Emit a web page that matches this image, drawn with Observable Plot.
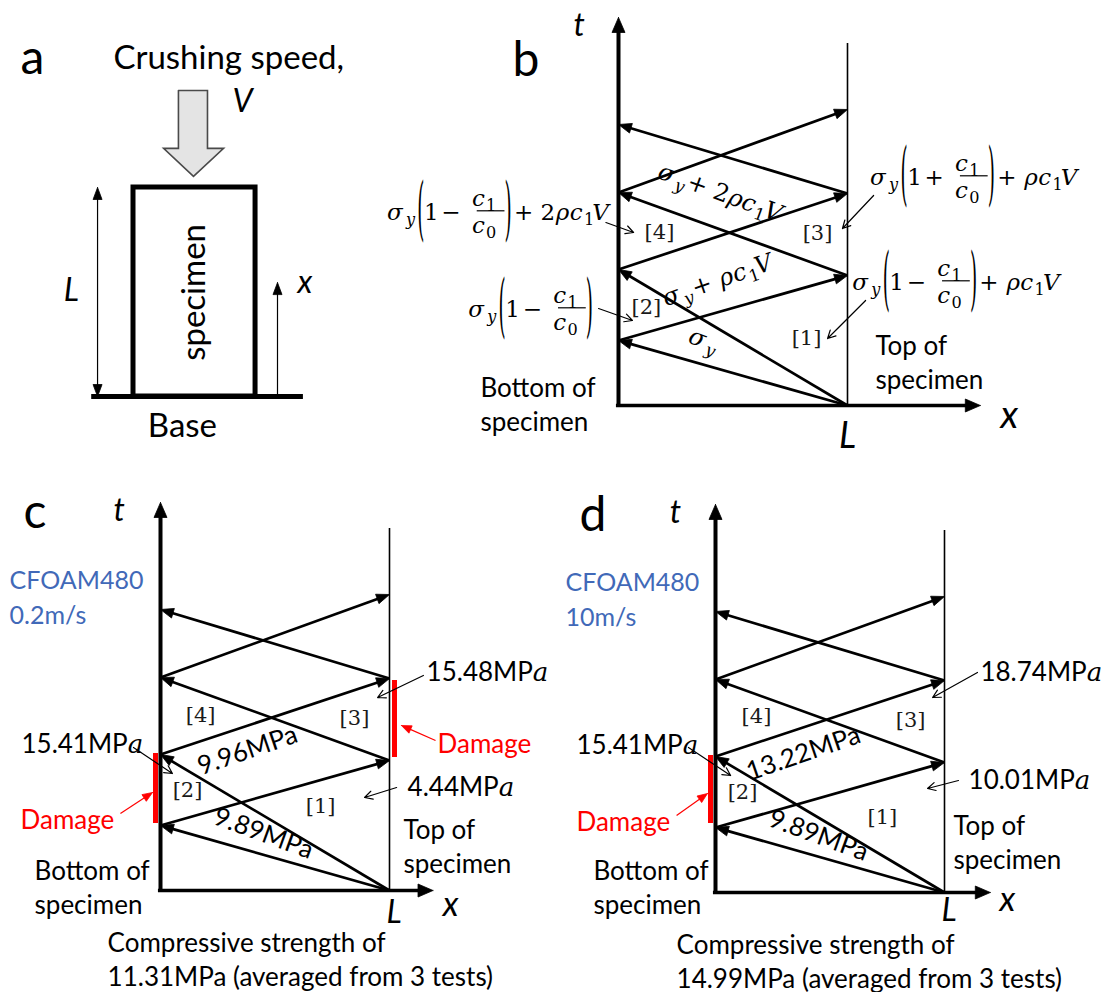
<!DOCTYPE html>
<html>
<head>
<meta charset="utf-8">
<script src="https://cdn.jsdelivr.net/npm/d3@7"></script>
<script src="https://cdn.jsdelivr.net/npm/@observablehq/plot@0.6"></script>
<style>
  html, body { margin: 0; padding: 0; background: #fff; }
  #figure { position: relative; width: 1104px; height: 992px; background: #fff; overflow: hidden; }
  #figure svg { position: absolute; background: none; overflow: visible; }
</style>
</head>
<body>
<div id="figure"></div>
<script>
// ---------------------------------------------------------------------------
// Wave fronts in the Lagrangian x–t plane (x in units of L, t in arbitrary
// time units). Segment i runs from (waveX1, waveT1) to (waveX2, waveT2).
// ---------------------------------------------------------------------------
const waveX1 = [1, 1, 0, 1, 0, 1, 0];
const waveT1 = [0, 0, 0.65, 1.30, 1.36, 2.12, 2.13];
const waveX2 = [0, 0, 1, 0, 1, 0, 1];
const waveT2 = [0.65, 1.36, 1.30, 2.13, 2.12, 2.81, 2.96];
const specimenTopT = 3.62;   // top of the x = L boundary line
const tAxisTop = 3.88;       // tip of the t axis

// Panel (a) geometry, in units of the specimen length L
const specimenWidth = 0.584;
const baseExtent = [-0.20, 0.813];
const lengthBarX = -0.172;
const xArrowX = 0.689, xArrowTop = 0.545;
const crushArrowX = [0.215, 0.354, 0.354, 0.431, 0.287, 0.144, 0.215, 0.215];
const crushArrowY = [1.464, 1.464, 1.187, 1.187, 1.053, 1.187, 1.187, 1.464];

// Pixel size of one unit on each diagram
const KX = 229, KY = 100, KA = 209;

const SANS = "Lato, 'Open Sans', sans-serif";
const MATH_FONT = "'DejaVu Serif', 'Liberation Serif', serif";
const RED = "#ff0000";
const BLUE = "#4169b8";

// ---------------------------------------------------------------------------
// Labels
// ---------------------------------------------------------------------------
const aTexts = [
  {text: "a", x: -0.541, t: 1.545, size: 48},
  {text: "Crushing speed,", x: -0.096, t: 1.569, size: 33}
];
const aItalic = [
  {text: "V", x: 0.474, t: 1.359, anchor: "start"},
  {text: "x", x: 0.785, t: 0.493, anchor: "start"},
  {text: "L", x: -0.297, t: 0.455, anchor: "middle"}
];

const bTexts = [
  {text: "b", x: -0.463, t: 3.30, size: 48},
  {text: "Bottom of\nspecimen", x: -0.603, t: -0.25},
  {text: "Top of\nspecimen", x: 1.122, t: 0.17}
];
const bItalic = [
  {text: "t", x: -0.197, t: 3.70, size: 32, anchor: "start"},
  {text: "x", x: 1.668, t: -0.22, size: 38, anchor: "start"},
  {text: "L", x: 1.0, t: -0.42, size: 36, anchor: "middle"}
];
const bRegions = [
  {text: "[1]", x: 0.821, t: 0.67}, {text: "[2]", x: 0.122, t: 0.98},
  {text: "[3]", x: 0.869, t: 1.72}, {text: "[4]", x: 0.179, t: 1.73}
];
const bLeaderX1 = [-0.055, -0.087, 1.114, 1.079];
const bLeaderT1 = [1.83, 0.97, 2.10, 1.05];
const bLeaderX2 = [0.066, 0.061, 0.978, 0.913];
const bLeaderT2 = [1.73, 0.85, 1.77, 0.67];

const cTexts = [
  {text: "c", x: -0.598, t: 3.63, size: 48},
  {text: "Bottom of\nspecimen", x: -0.55, t: -0.23},
  {text: "Top of\nspecimen", x: 1.061, t: 0.18},
  {text: "Compressive strength of\n11.31MPa (averaged from 3 tests)", x: -0.231, t: -0.95}
];
const cMaterial = [{text: "CFOAM480\n0.2m/s", x: -0.659, t: 2.67}];
const cDamage = [{text: "Damage", x: -0.611, t: 0.62}, {text: "Damage", x: 1.21, t: 1.38}];
const cStress = [
  {text: "15.41MPa", x: -0.607, t: 1.38}, {text: "15.48MPa", x: 1.162, t: 2.10},
  {text: "4.44MPa", x: 1.079, t: 0.95}
];
const cSlanted = [
  {text: "9.96MPa", x: 0.38, t: 1.40, angle: -19}, {text: "9.89MPa", x: 0.45, t: 0.57, angle: 20}
];
const cRegions = [
  {text: "[4]", x: 0.175, t: 1.75}, {text: "[3]", x: 0.847, t: 1.72},
  {text: "[2]", x: 0.118, t: 1.0}, {text: "[1]", x: 0.699, t: 0.84}
];
const cItalic = [
  {text: "t", x: -0.205, t: 3.70, size: 32, anchor: "start"},
  {text: "x", x: 1.232, t: -0.25, size: 34, anchor: "start"},
  {text: "L", x: 1.02, t: -0.32, size: 32, anchor: "middle"}
];
const cLeaderX1 = [-0.118, 1.148, 1.031];
const cLeaderT1 = [1.43, 2.15, 1.03];
const cLeaderX2 = [0.052, 0.948, 0.891];
const cLeaderT2 = [1.17, 1.93, 0.93];
const cDamageArrowX1 = [-0.175, 1.201], cDamageArrowT1 = [0.77, 1.50];
const cDamageArrowX2 = [-0.035, 1.052], cDamageArrowT2 = [0.98, 1.65];
const cDamageBarX = [0, 1], cDamageBarT1 = [0.67, 1.33], cDamageBarT2 = [1.37, 2.10];

const dTexts = [
  {text: "d", x: -0.594, t: 3.62, size: 48},
  {text: "Bottom of\nspecimen", x: -0.533, t: -0.21},
  {text: "Top of\nspecimen", x: 1.039, t: 0.24},
  {text: "Compressive strength of\n14.99MPa (averaged from 3 tests)", x: -0.17, t: -0.95}
];
const dMaterial = [{text: "CFOAM480\n10m/s", x: -0.655, t: 2.67}];
const dDamage = [{text: "Damage", x: -0.607, t: 0.62}];
const dStress = [
  {text: "15.41MPa", x: -0.607, t: 1.39}, {text: "18.74MPa", x: 1.157, t: 2.12},
  {text: "10.01MPa", x: 1.105, t: 1.04}
];
const dSlanted = [
  {text: "13.22MPa", x: 0.384, t: 1.39, angle: -19}, {text: "9.89MPa", x: 0.45, t: 0.57, angle: 20}
];
const dRegions = [
  {text: "[4]", x: 0.179, t: 1.76}, {text: "[3]", x: 0.852, t: 1.72},
  {text: "[2]", x: 0.118, t: 1.0}, {text: "[1]", x: 0.729, t: 0.75}
];
const dItalic = [
  {text: "t", x: -0.20, t: 3.70, size: 32, anchor: "start"},
  {text: "x", x: 1.24, t: -0.18, size: 34, anchor: "start"},
  {text: "L", x: 1.02, t: -0.28, size: 32, anchor: "middle"}
];
const dLeaderX1 = [-0.118, 1.144, 1.061];
const dLeaderT1 = [1.45, 2.20, 1.12];
const dLeaderX2 = [0.066, 0.948, 0.926];
const dLeaderT2 = [1.17, 1.95, 1.04];
const dDamageArrowX1 = [-0.17], dDamageArrowT1 = [0.77];
const dDamageArrowX2 = [-0.035], dDamageArrowT2 = [0.99];
const dDamageBarX = [0], dDamageBarT1 = [0.69], dDamageBarT2 = [1.37];

// ---------------------------------------------------------------------------
// Helpers
// ---------------------------------------------------------------------------
const zip = (...cols) => cols[0].map((_, i) => cols.map(c => c[i]));

// Filled triangular arrowhead whose tip sits at (x1, y1), pointing along the segment.
function headPolygon(x0, y0, x1, y1, kx, ky, len, half, id) {
  const px = (x1 - x0) * kx, py = (y1 - y0) * ky;
  const d = Math.hypot(px, py), ux = px / d, uy = py / d;
  const bx = -ux * len, by = -uy * len;
  return [[0, 0], [bx - uy * half, by + ux * half], [bx + uy * half, by - ux * half], [0, 0]]
    .map(([ox, oy]) => ({x: x1 + ox / kx, y: y1 + oy / ky, id}));
}
// End point pulled back along the segment so the shaft stops inside the head.
function pullBack(x0, y0, x1, y1, kx, ky, by) {
  const px = (x1 - x0) * kx, py = (y1 - y0) * ky;
  const d = Math.hypot(px, py);
  return [x1 - px / d * by / kx, y1 - py / d * by / ky];
}

function arrowsWithHeads(rows, color, width, len, half, kx, ky, prefix) {
  const shafts = rows.map(([x1, t1, x2, t2]) => {
    const [ex, et] = pullBack(x1, t1, x2, t2, kx, ky, len * 0.6);
    return {x1, t1, ex, et};
  });
  const heads = rows.flatMap(([x1, t1, x2, t2], i) => headPolygon(x1, t1, x2, t2, kx, ky, len, half, prefix + i));
  return [
    Plot.link(shafts, {x1: "x1", y1: "t1", x2: "ex", y2: "et", stroke: color, strokeWidth: width, strokeLinecap: "butt"}),
    Plot.line(heads, {x: "x", y: "y", z: "id", fill: color, stroke: color, strokeWidth: 0.8, strokeLinejoin: "miter", strokeMiterlimit: 10})
  ];
}

// Shared marks of an x–t diagram: boundary line, wave fronts and axes.
function diagramMarks(xAxisEnd) {
  const waves = zip(waveX1, waveT1, waveX2, waveT2);
  const axisHeads = [
    ...headPolygon(0, 0, 0, tAxisTop, KX, KY, 15, 6.5, "t"),
    ...headPolygon(0, 0, xAxisEnd, 0, KX, KY, 15, 6.5, "x")
  ];
  return [
    Plot.ruleX([1], {y1: 0, y2: specimenTopT, stroke: "#000", strokeWidth: 1.6}),
    ...arrowsWithHeads(waves, "#000", 2.7, 13, 5, KX, KY, "w"),
    Plot.ruleX([0], {y1: -0.017, y2: tAxisTop - 0.1, stroke: "#000", strokeWidth: 4}),
    Plot.ruleY([0], {x1: -0.009, x2: xAxisEnd - 10 / KX, stroke: "#000", strokeWidth: 3.4}),
    Plot.line(axisHeads, {x: "x", y: "y", z: "id", fill: "#000", stroke: "#000", strokeWidth: 0.8, strokeLinejoin: "miter", strokeMiterlimit: 10})
  ];
}

function leaderMarks(x1, t1, x2, t2) {
  return Plot.arrow(zip(x1, t1, x2, t2), {
    x1: d => d[0], y1: d => d[1], x2: d => d[2], y2: d => d[3],
    stroke: "#000", strokeWidth: 1.2, headLength: 11, headAngle: 55
  });
}

function plainText(data, extra = {}) {
  return Plot.text(data, {
    x: "x", y: "t", text: "text", fontSize: d => d.size ?? 26, textAnchor: "start",
    lineAnchor: "bottom", lineHeight: 1.3, fontFamily: SANS, fill: "#000", ...extra
  });
}
function italicText(data, size) {
  return ["start", "middle"].map(anchor => Plot.text(data.filter(d => d.anchor === anchor), {
    x: "x", y: "t", text: "text", fontSize: d => d.size ?? size, fontStyle: "italic",
    textAnchor: anchor, lineAnchor: "bottom", fontFamily: SANS, fill: "#000"
  }));
}
function regionText(data) {
  return Plot.text(data, {x: "x", y: "t", text: "text", fontSize: 21, fontFamily: MATH_FONT, fill: "#1a1a1a", lineAnchor: "middle"});
}
function stressText(data) {
  return Plot.text(data, {x: "x", y: "t", text: "text", fontSize: 26, fontFamily: SANS, fill: "#000",
    textAnchor: "start", lineAnchor: "bottom"});
}
function slantedText(data) {
  return data.map(d => Plot.text([d], {x: "x", y: "t", text: "text", fontSize: 26, fontFamily: SANS,
    fill: "#000", rotate: d.angle}));
}

function diagramPlot(width, height, ox, oy, marks) {
  return Plot.plot({
    width, height, margin: 0,
    x: {domain: [0, 1], range: [ox, ox + KX], axis: null},
    y: {domain: [0, 1], range: [oy, oy - KY], axis: null},
    style: {fontFamily: SANS, background: "none", overflow: "visible"},
    marks
  });
}

// --- inline math (stacked fractions, subscripts) drawn on top of a plot ---
const I = s => ({s, it: true});
const R = s => ({s});
const S = (s, it = false) => ({s, it, sub: true});
const OP = s => ({s, op: true});
const P = s => ({s, paren: true});
const FR = (num, den) => ({num, den});

function setTokens(g, tokens, x, y, size) {
  for (const tk of tokens) {
    if (tk.num) {
      const num = g.append("g"), den = g.append("g");
      const wn = setTokens(num, tk.num, 0, 0, size);
      const wd = setTokens(den, tk.den, 0, 0, size);
      const pad = size * 0.06, w = Math.max(wn, wd) + size * 0.14;
      num.attr("transform", `translate(${x + pad + (w - wn) / 2},${y - size * 0.62})`);
      den.attr("transform", `translate(${x + pad + (w - wd) / 2},${y + size * 0.58})`);
      g.append("line").attr("x1", x + pad).attr("x2", x + pad + w)
        .attr("y1", y - size * 0.4).attr("y2", y - size * 0.4)
        .attr("stroke", "#000").attr("stroke-width", 1.2);
      x += w + 2 * pad;
    } else if (tk.paren) {
      const k = 3.0, sx = 0.8;
      const open = tk.s === "(";
      const t = g.append("text").attr("font-size", size)
        .attr("transform", `translate(${x + (open ? 0 : size * 0.1)},${y - size * 0.4 + k * 0.31 * size}) scale(${sx},${k})`)
        .text(tk.s);
      x += t.node().getComputedTextLength() * sx + size * (open ? 0.14 : 0.24);
    } else {
      const fs = tk.sub ? size * 0.7 : size;
      const pad = tk.op ? size * 0.22 : 0;
      const t = g.append("text").attr("x", x + pad).attr("y", y + (tk.sub ? size * 0.22 : 0))
        .attr("font-size", fs).attr("font-style", tk.it ? "italic" : null).text(tk.s);
      x += t.node().getComputedTextLength() + 2 * pad + (tk.sub ? size * 0.06 : 0);
    }
  }
  return x;
}

function drawMath(plot, tokens, x, t, size, rotate) {
  const px = plot.scale("x").apply(x), py = plot.scale("y").apply(t);
  const g = d3.select(plot).append("g").attr("font-family", MATH_FONT).attr("fill", "#000");
  const inner = g.append("g");
  const w = setTokens(inner, tokens, 0, 0, size);
  if (rotate != null) {
    g.attr("transform", `translate(${px},${py}) rotate(${rotate})`);
    inner.attr("transform", `translate(${-w / 2},${size * 0.3})`);
  } else {
    g.attr("transform", `translate(${px},${py})`);
  }
}

// Stress values quoted at the boundaries end in an italic "a"
function italicizeUnit(plot, labels) {
  const wanted = new Set(labels.map(d => d.text));
  d3.select(plot).selectAll("text").each(function () {
    if (this.childElementCount || !wanted.has(this.textContent)) return;
    const s = this.textContent;
    this.textContent = s.slice(0, -1);
    d3.select(this).append("tspan").attr("font-style", "italic")
      .attr("font-family", MATH_FONT).text(s.slice(-1));
  });
}

const figure = document.getElementById("figure");
function mount(plot, left, top) {
  plot.style.left = left + "px";
  plot.style.top = top + "px";
  figure.appendChild(plot);
  return plot;
}

// ---------------------------------------------------------------------------
// (a) specimen under crushing
// ---------------------------------------------------------------------------
const crushArrow = zip(crushArrowX, crushArrowY).map(([x, y]) => ({x, y}));
mount(Plot.plot({
  width: 370, height: 470, margin: 0,
  x: {domain: [0, 1], range: [133, 133 + KA], axis: null},
  y: {domain: [0, 1], range: [396, 396 - KA], axis: null},
  style: {fontFamily: SANS, background: "none", overflow: "visible"},
  marks: [
    Plot.line(crushArrow, {x: "x", y: "y", fill: "#e4e4e4", stroke: "#4a4a4a", strokeWidth: 1.6, strokeLinejoin: "miter", strokeMiterlimit: 10}),
    Plot.rect([0], {x1: 0, x2: specimenWidth, y1: 0, y2: 1, fill: "none", stroke: "#000", strokeWidth: 5}),
    Plot.ruleY([0], {x1: baseExtent[0], x2: baseExtent[1], stroke: "#000", strokeWidth: 5}),
    ...arrowsWithHeads([[lengthBarX, 0.5, lengthBarX, 1], [lengthBarX, 0.5, lengthBarX, 0], [xArrowX, 0, xArrowX, xArrowTop]],
      "#000", 1.2, 12, 4.5, KA, KA, "a"),
    plainText(aTexts),
    Plot.text(["specimen"], {x: specimenWidth / 2, y: 0.498, text: d => d, rotate: -90, fontSize: 33, fontFamily: SANS, fill: "#000"}),
    Plot.text(["Base"], {x: 0.234, y: -0.196, text: d => d, fontSize: 33, fontFamily: SANS, fill: "#000", lineAnchor: "bottom"}),
    ...italicText(aItalic, 32)
  ]
}), 0, 0);

// ---------------------------------------------------------------------------
// (b) general x–t diagram
// ---------------------------------------------------------------------------
const plotB = mount(diagramPlot(734, 470, 248, 405, [
  ...diagramMarks(1.58),
  leaderMarks(bLeaderX1, bLeaderT1, bLeaderX2, bLeaderT2),
  plainText(bTexts),
  ...italicText(bItalic, 32),
  regionText(bRegions)
]), 370, 0);

const sig = [I("σ"), S("y", true)];
const ratio = FR([I("c"), S("1")], [I("c"), S("0")]);
drawMath(plotB, [...sig, P("("), R("1"), OP("−"), ratio, P(")"), OP("+"), R("2"), I("ρ"), I("c"), S("1"), I("V")], -0.975, 1.85, 23);
drawMath(plotB, [...sig, P("("), R("1"), OP("−"), ratio, P(")")], -0.62, 0.88, 23);
drawMath(plotB, [...sig, P("("), R("1"), OP("+"), ratio, P(")"), OP("+"), I("ρ"), I("c"), S("1"), I("V")], 1.135, 2.20, 23);
drawMath(plotB, [...sig, P("("), R("1"), OP("−"), ratio, P(")"), OP("+"), I("ρ"), I("c"), S("1"), I("V")], 1.057, 1.15, 23);
drawMath(plotB, sig, 0.402, 0.62, 24, 20);
drawMath(plotB, [...sig, OP("+"), I("ρ"), I("c"), S("1"), I("V")], 0.47, 1.27, 24, -19);
drawMath(plotB, [...sig, OP("+"), R("2"), I("ρ"), I("c"), S("1"), I("V")], 0.48, 2.09, 24, 20);

// ---------------------------------------------------------------------------
// (c) CFOAM480 at 0.2 m/s and (d) at 10 m/s
// ---------------------------------------------------------------------------
function damageBars(barX, t1, t2) {
  // the red bars sit just outside the boundary they mark
  return barX.map((x, i) => Plot.ruleX([x], {y1: t1[i], y2: t2[i], dx: x === 0 ? -5 : 5, stroke: RED, strokeWidth: 5}));
}

function measuredPanel(o) {
  return [
    ...damageBars(o.barX, o.barT1, o.barT2),
    ...diagramMarks(o.xAxisEnd),
    ...arrowsWithHeads(zip(o.dax1, o.dat1, o.dax2, o.dat2), RED, 1.2, 10, 4, KX, KY, "r"),
    leaderMarks(o.lx1, o.lt1, o.lx2, o.lt2),
    plainText(o.texts),
    plainText(o.material, {fill: BLUE, fontSize: 25, lineHeight: 1.4}),
    plainText(o.damage, {fill: RED}),
    stressText(o.stress),
    ...slantedText(o.slanted),
    regionText(o.regions),
    ...italicText(o.italic, 32)
  ];
}

const plotC = mount(diagramPlot(560, 522, 160, 420, measuredPanel({
  barX: cDamageBarX, barT1: cDamageBarT1, barT2: cDamageBarT2, xAxisEnd: 1.19,
  dax1: cDamageArrowX1, dat1: cDamageArrowT1, dax2: cDamageArrowX2, dat2: cDamageArrowT2,
  lx1: cLeaderX1, lt1: cLeaderT1, lx2: cLeaderX2, lt2: cLeaderT2,
  texts: cTexts, material: cMaterial, damage: cDamage, stress: cStress,
  slanted: cSlanted, regions: cRegions, italic: cItalic
})), 0, 470);

const plotD = mount(diagramPlot(544, 522, 155, 422, measuredPanel({
  barX: dDamageBarX, barT1: dDamageBarT1, barT2: dDamageBarT2, xAxisEnd: 1.20,
  dax1: dDamageArrowX1, dat1: dDamageArrowT1, dax2: dDamageArrowX2, dat2: dDamageArrowT2,
  lx1: dLeaderX1, lt1: dLeaderT1, lx2: dLeaderX2, lt2: dLeaderT2,
  texts: dTexts, material: dMaterial, damage: dDamage, stress: dStress,
  slanted: dSlanted, regions: dRegions, italic: dItalic
})), 560, 470);

italicizeUnit(plotC, cStress);
italicizeUnit(plotD, dStress);
</script>
</body>
</html>
